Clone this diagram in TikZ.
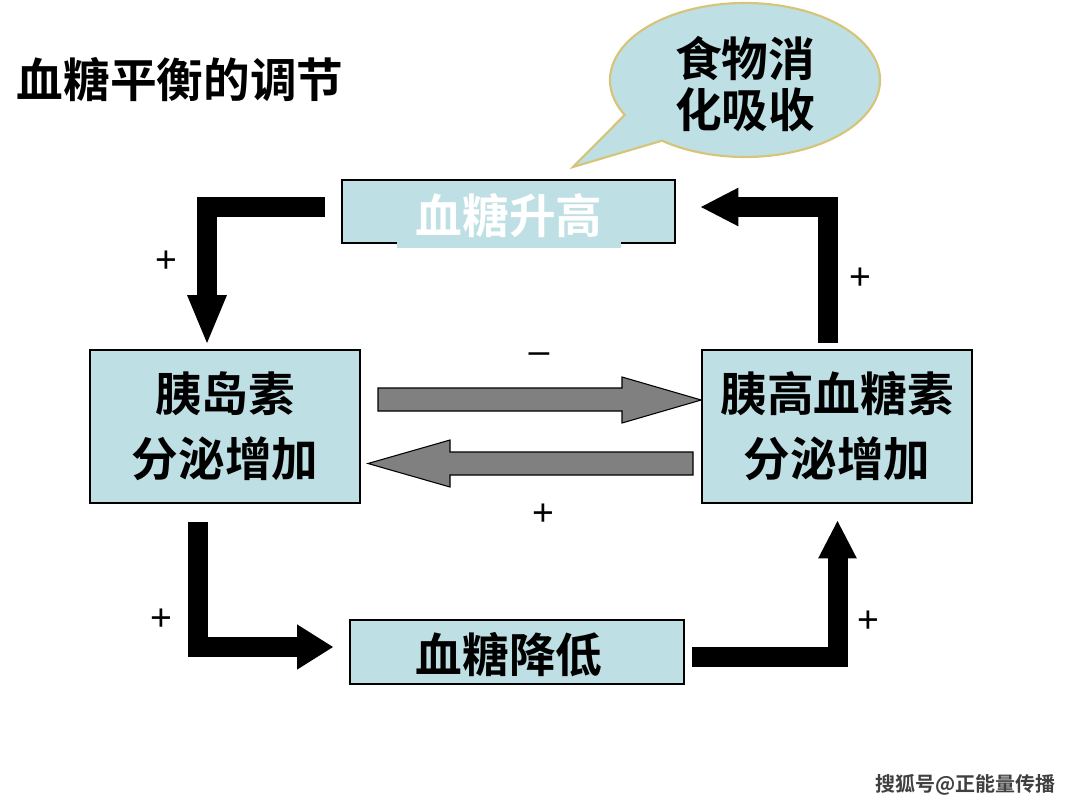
\documentclass[tikz,border=0pt]{standalone}
\usepackage{fontspec}
\setmainfont{Noto Sans CJK SC}[BoldFont={Noto Sans CJK SC Bold}]
\newfontfamily\latfont{Liberation Sans}
\usetikzlibrary{arrows.meta}
\definecolor{boxblue}{RGB}{190,223,227}
\definecolor{calloutedge}{RGB}{214,196,120}
\definecolor{arrowgray}{RGB}{128,128,128}
\begin{document}
\begin{tikzpicture}[x=0.75pt,y=-0.75pt,
  box/.style={draw=black, line width=1.2pt, fill=boxblue, inner sep=0pt, align=center},
  big/.style={font=\fontsize{35}{48.75}\selectfont\bfseries},
  sign/.style={font=\latfont\fontsize{28}{30}\selectfont, inner sep=0pt},
  blk/.style={line width=15pt, line join=miter, line cap=butt},
  grayarrow/.style={fill=arrowgray, draw=black, line width=0.8pt, line join=miter}
]
\useasboundingbox[fill=white] (0,0) rectangle (1080,810);

% title
\node[big, anchor=west] (title) at (12,80) {血糖平衡的调节};

% callout
\draw[fill=boxblue, draw=calloutedge, line width=1.6pt]
  (745,80) ++(153:135 and 77) arc[start angle=153, end angle=488, x radius=135, y radius=77]
  -- (573,167) -- cycle;
\node[big, align=center, font=\fontsize{35}{38.25}\selectfont\bfseries] (food) at (745,84) {食物消\\化吸收};

% boxes
\node[box, minimum width=249.75pt, minimum height=47.25pt] (top) at (508.5,211.5) {};
\node[fill=boxblue, inner sep=0pt, minimum width=168pt, minimum height=48.75pt, text=white, big] (toplabel) at (509,215.5) {血糖升高};
\node[box, big, minimum width=202.5pt, minimum height=114.75pt] (ins) at (225,426.5) {胰岛素\\分泌增加};
\node[box, big, minimum width=202.5pt, minimum height=114.75pt] (glu) at (837,426.5) {胰高血糖素\\分泌增加};
\node[box, minimum width=250.5pt, minimum height=48pt] (low) at (517,652) {};
\node[big, inner sep=0pt] (lowlabel) at (509,655) {血糖降低};

% black L-shaped arrows
\coordinate (a1s) at (325,207); \coordinate (a1c) at (207,207); \coordinate (a1e) at (207,343);
\draw[blk, -{Triangle[width=30pt, length=36pt, line width=0pt]}] (a1s) -- (a1c) -- (a1e);
\coordinate (a2s) at (828,343); \coordinate (a2c) at (828,207); \coordinate (a2e) at (701,207);
\draw[blk, -{Triangle[width=29pt, length=28pt, line width=0pt]}] (a2s) -- (a2c) -- (a2e);
\coordinate (a3s) at (198,522); \coordinate (a3c) at (198,647); \coordinate (a3e) at (333,647);
\draw[blk, -{Triangle[width=34pt, length=27pt, line width=0pt]}] (a3s) -- (a3c) -- (a3e);
\coordinate (a4s) at (692,656.5); \coordinate (a4c) at (837.5,656.5); \coordinate (a4e) at (837.5,521);
\draw[blk, -{Triangle[width=29pt, length=28pt, line width=0pt]}] (a4s) -- (a4c) -- (a4e);

% gray block arrows
\draw[grayarrow] (378,388) -- (622,388) -- (622,377) -- (glu.west |- 0,400) -- (622,423) -- (622,411) -- (378,411) -- cycle;
\draw[grayarrow] (693,452) -- (450,452) -- (450,440) -- (368,463.5) -- (450,487) -- (450,475) -- (693,475) -- cycle;

% signs
\node[sign] (p1) at (166,262) {+};
\node[sign] (p2) at (860,279) {+};
\node[sign] (m1) at (539,358) {–};
\node[sign] (p3) at (543,515) {+};
\node[sign] (p4) at (161,620) {+};
\node[sign] (p5) at (868,622) {+};

% watermark
\node[font=\fontsize{15}{16}\selectfont\bfseries, text=black!75, anchor=east, inner sep=0pt] (wm) at (1056,785) {搜狐号@正能量传播};
\end{tikzpicture}
\end{document}
